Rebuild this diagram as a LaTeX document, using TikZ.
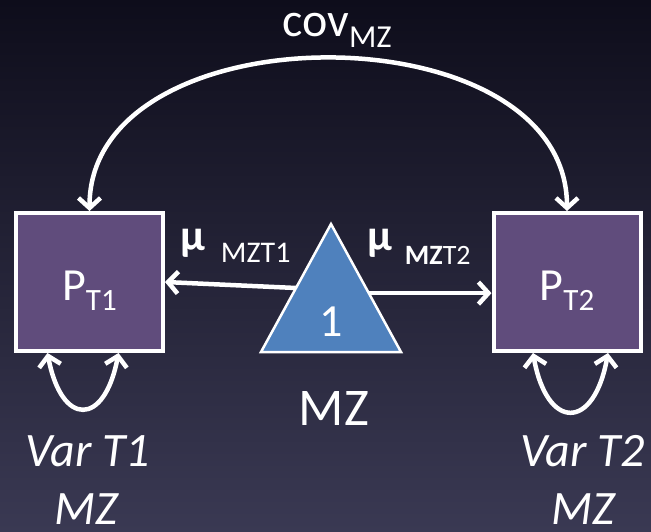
\documentclass[tikz,border=0pt]{standalone}
\usepackage{fontspec}
\setmainfont{Carlito}
\usetikzlibrary{arrows.meta,positioning,calc}

\definecolor{bgtop}{HTML}{0E0D1B}
\definecolor{bgbot}{HTML}{3A3953}
\definecolor{boxfill}{HTML}{604C7C}
\definecolor{trifill}{HTML}{4F81BD}

\newcommand{\fsz}[1]{\fontsize{#1}{#1}\selectfont}

\begin{document}
\begin{tikzpicture}[
  x=1pt, y=-1pt,
  box/.style={draw=white, line width=4pt, fill=boxfill, minimum width=147pt, minimum height=138pt,
    inner sep=0pt, text=white, font=\fsz{46}, text height=36pt, text depth=0pt},
  lbl/.style={text=white, inner sep=0pt},
  arrow/.style={draw=white, line width=4.5pt, -{Straight Barb[length=10pt,width=22pt]}},
  twohead/.style={arrow, {Straight Barb[length=10pt,width=22pt]}-{Straight Barb[length=10pt,width=22pt]}}
]
% background
\useasboundingbox (0,0) rectangle (651,532);
\shade[top color=bgtop, bottom color=bgbot] (0,0) rectangle (651,532);

% twin phenotypes
\node[box] (pt1) at (89.5,282) {P\raisebox{-10pt}{\fsz{31}T1}};
\node[box] (pt2) at (567,282) {P\raisebox{-10pt}{\fsz{31}T2}};

% mean triangle
\coordinate (apex) at (331,224);
\coordinate (bl) at (261,352);
\coordinate (br) at (401,352);
\draw[white, line width=2.5pt, fill=trifill] (apex) -- (bl) -- (br) -- cycle;
\node[lbl, font=\fsz{46}] (one) at (331,322) {1};
\node[lbl, font=\fsz{53}, anchor=base] (grp) at (334,425) {MZ};

\coordinate (tl) at ($(apex)!0.5!(bl)$);
\coordinate (tr) at ($(apex)!0.54!(br)$);

% means
\draw[arrow] (tl) -- (pt1.east);
\draw[arrow] (tr) -- (tr -| pt2.west);
\node[lbl, anchor=base west] (mu1) at (180,250)
  {{\bfseries\fsz{44}μ}\hspace{16pt}\raisebox{-13pt}{\fsz{30}MZT1}};
\node[lbl, anchor=base west] (mu2) at (367,250)
  {{\bfseries\fsz{44}μ}\hspace{13pt}\raisebox{-14pt}{\fsz{28}\textbf{MZ}T2}};

% covariance
\draw[twohead] (pt1.north) .. controls +(0,-203) and +(0,-203) .. (pt2.north);
\node[lbl, anchor=base] (cov) at (337,37) {\fsz{48}cov\raisebox{-11pt}{\fsz{32}MZ}};

% variances
\coordinate (v1a) at ([xshift=-42pt]pt1.south);
\coordinate (v1b) at ([xshift=29pt]pt1.south);
\coordinate (v2a) at ([xshift=-34pt]pt2.south);
\coordinate (v2b) at ([xshift=41pt]pt2.south);
\draw[twohead] (v1a) .. controls +(14,74) and +(-14,74) .. (v1b);
\draw[twohead] (v2a) .. controls +(14,78) and +(-14,78) .. (v2b);

\node[lbl, anchor=base, font=\itshape\fsz{48}] (var1) at (88,466) {Var T1};
\node[lbl, anchor=base, font=\itshape\fsz{48}] (mz1) at (86,524) {MZ};
\node[lbl, anchor=base, font=\itshape\fsz{48}] (var2) at (583,466) {Var T2};
\node[lbl, anchor=base, font=\itshape\fsz{48}] (mz2) at (583,524) {MZ};
\end{tikzpicture}
\end{document}
